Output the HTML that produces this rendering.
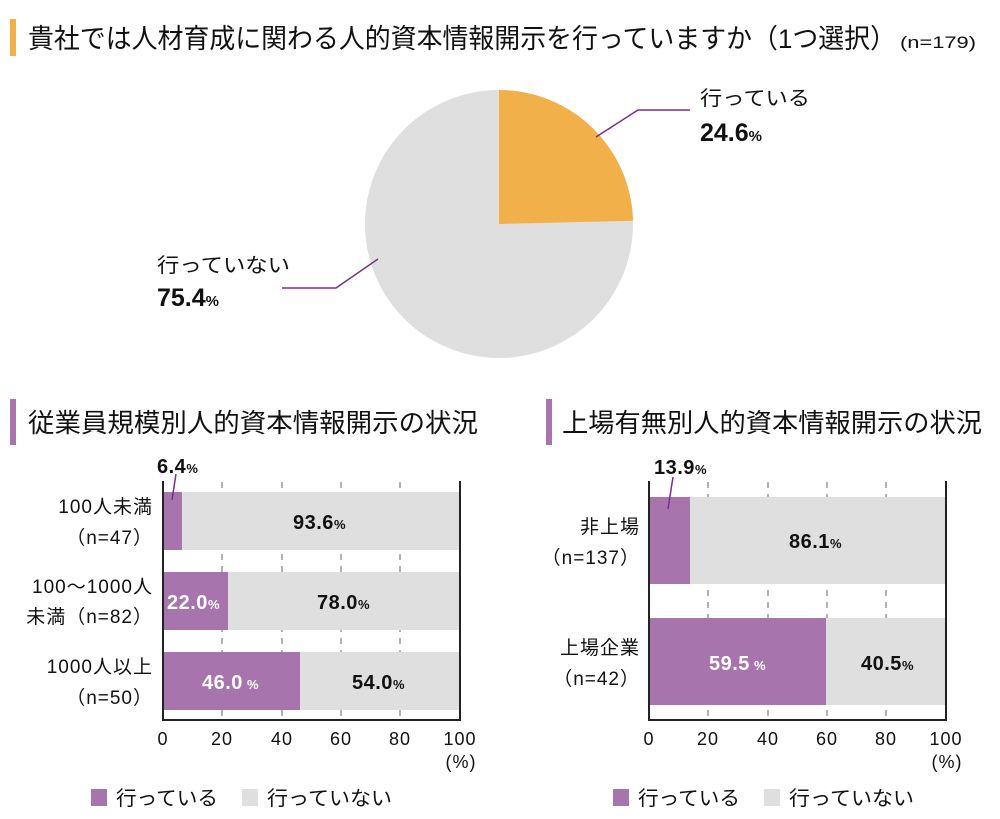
<!DOCTYPE html>
<html><head><meta charset="utf-8"><style>
html,body{margin:0;padding:0;background:#fff}
svg{display:block;font-family:"Liberation Sans","Noto Sans CJK JP",sans-serif}
</style></head><body>
<svg width="1000" height="819" viewBox="0 0 1000 819" xmlns="http://www.w3.org/2000/svg">
<rect x="10" y="19" width="6" height="37" fill="#f2b04b"/>
<text x="28" y="48" font-size="27" fill="#111" textLength="868" lengthAdjust="spacingAndGlyphs">貴社では人材育成に関わる人的資本情報開示を行っていますか（1つ選択）</text>
<text x="900" y="48" font-size="17" fill="#111" textLength="76" lengthAdjust="spacingAndGlyphs">(n=179)</text>

<circle cx="499" cy="224" r="134" fill="#dfdfdf"/>
<path d="M499 224 L499 90 A134 134 0 0 1 633 220.7 Z" fill="#f2b04b"/>
<polyline points="596,137 638,110 690,110" fill="none" stroke="#7b2d8e" stroke-width="1.5"/>
<polyline points="378,259 336,288 282,288" fill="none" stroke="#7b2d8e" stroke-width="1.5"/>
<text x="700" y="105" font-size="20" fill="#111" textLength="110" lengthAdjust="spacingAndGlyphs">行っている</text>
<text x="700" y="141" font-size="25" font-weight="bold" fill="#111">24.6<tspan font-size="15">%</tspan></text>
<text x="157" y="272" font-size="20" fill="#111" textLength="133" lengthAdjust="spacingAndGlyphs">行っていない</text>
<text x="157" y="306" font-size="25" font-weight="bold" fill="#111">75.4<tspan font-size="15">%</tspan></text>

<rect x="10" y="399" width="6" height="46" fill="#a874ad"/>
<text x="28" y="432" font-size="26" fill="#111" textLength="450" lengthAdjust="spacingAndGlyphs">従業員規模別人的資本情報開示の状況</text>
<rect x="546" y="399" width="6" height="46" fill="#a874ad"/>
<text x="562" y="432" font-size="26" fill="#111" textLength="420" lengthAdjust="spacingAndGlyphs">上場有無別人的資本情報開示の状況</text>

<!-- left chart -->
<g stroke="#666" stroke-width="1" stroke-dasharray="6,6">
<line x1="222" y1="482" x2="222" y2="720"/><line x1="282" y1="482" x2="282" y2="720"/>
<line x1="341" y1="482" x2="341" y2="720"/><line x1="400" y1="482" x2="400" y2="720"/>
</g>
<rect x="163" y="492" width="297" height="58" fill="#dfdfdf"/>
<rect x="163" y="492" width="19" height="58" fill="#a874ad"/>
<rect x="163" y="572" width="297" height="58" fill="#dfdfdf"/>
<rect x="163" y="572" width="65" height="58" fill="#a874ad"/>
<rect x="163" y="652" width="297" height="58" fill="#dfdfdf"/>
<rect x="163" y="652" width="137" height="58" fill="#a874ad"/>
<g stroke="#222" stroke-width="2"><line x1="163" y1="481" x2="163" y2="721"/><line x1="460" y1="481" x2="460" y2="721"/><line x1="162" y1="720" x2="461" y2="720"/></g>
<line x1="176" y1="474" x2="172" y2="500" stroke="#7b2d8e" stroke-width="1.5"/>
<g font-size="20" font-weight="bold" fill="#111" letter-spacing="0.5">
<text x="157" y="473">6.4<tspan font-size="13">%</tspan></text>
<text x="293" y="529">93.6<tspan font-size="13">%</tspan></text>
<text x="167" y="609" fill="#fff">22.0<tspan font-size="13">%</tspan></text>
<text x="317" y="609">78.0<tspan font-size="13">%</tspan></text>
<text x="202" y="689" fill="#fff">46.0<tspan font-size="13"> %</tspan></text>
<text x="352" y="689">54.0<tspan font-size="13">%</tspan></text>
</g>
<g font-size="19" fill="#111" text-anchor="end" letter-spacing="1">
<text x="153" y="513">100人未満</text><text x="153" y="544">（n=47）</text>
<text x="153" y="593">100～1000人</text><text x="153" y="623">未満（n=82）</text>
<text x="153" y="673">1000人以上</text><text x="153" y="704">（n=50）</text>
</g>
<g font-size="18" fill="#111" text-anchor="middle" letter-spacing="1">
<text x="163" y="745">0</text><text x="222" y="745">20</text><text x="282" y="745">40</text><text x="341" y="745">60</text><text x="400" y="745">80</text><text x="460" y="745">100</text>
<text x="461" y="768">(%)</text>
</g>
<rect x="91" y="789" width="16" height="17" fill="#a874ad"/>
<text x="116" y="805" font-size="20" fill="#111" textLength="102" lengthAdjust="spacingAndGlyphs">行っている</text>
<rect x="242" y="789" width="16" height="17" fill="#dfdfdf"/>
<text x="267" y="805" font-size="20" fill="#111" textLength="125" lengthAdjust="spacingAndGlyphs">行っていない</text>

<!-- right chart -->
<g stroke="#666" stroke-width="1" stroke-dasharray="6,6">
<line x1="708" y1="482" x2="708" y2="720"/><line x1="768" y1="482" x2="768" y2="720"/>
<line x1="827" y1="482" x2="827" y2="720"/><line x1="886" y1="482" x2="886" y2="720"/>
</g>
<rect x="649" y="497" width="297" height="87" fill="#dfdfdf"/>
<rect x="649" y="497" width="41" height="87" fill="#a874ad"/>
<rect x="649" y="618" width="297" height="87" fill="#dfdfdf"/>
<rect x="649" y="618" width="177" height="87" fill="#a874ad"/>
<g stroke="#222" stroke-width="2"><line x1="649" y1="481" x2="649" y2="721"/><line x1="946" y1="481" x2="946" y2="721"/><line x1="648" y1="720" x2="947" y2="720"/></g>
<line x1="673" y1="477" x2="668" y2="509" stroke="#7b2d8e" stroke-width="1.5"/>
<g font-size="20" font-weight="bold" fill="#111" letter-spacing="0.5">
<text x="654" y="474">13.9<tspan font-size="13">%</tspan></text>
<text x="789" y="548">86.1<tspan font-size="13">%</tspan></text>
<text x="709" y="670" fill="#fff">59.5<tspan font-size="13"> %</tspan></text>
<text x="861" y="670">40.5<tspan font-size="13">%</tspan></text>
</g>
<g font-size="19" fill="#111" text-anchor="end" letter-spacing="1">
<text x="640" y="533">非上場</text><text x="640" y="564">（n=137）</text>
<text x="640" y="654">上場企業</text><text x="640" y="685">（n=42）</text>
</g>
<g font-size="18" fill="#111" text-anchor="middle" letter-spacing="1">
<text x="649" y="745">0</text><text x="708" y="745">20</text><text x="768" y="745">40</text><text x="827" y="745">60</text><text x="886" y="745">80</text><text x="946" y="745">100</text>
<text x="947" y="768">(%)</text>
</g>
<rect x="613" y="789" width="16" height="17" fill="#a874ad"/>
<text x="638" y="805" font-size="20" fill="#111" textLength="102" lengthAdjust="spacingAndGlyphs">行っている</text>
<rect x="764" y="789" width="16" height="17" fill="#dfdfdf"/>
<text x="789" y="805" font-size="20" fill="#111" textLength="125" lengthAdjust="spacingAndGlyphs">行っていない</text>
</svg>
</body></html>
